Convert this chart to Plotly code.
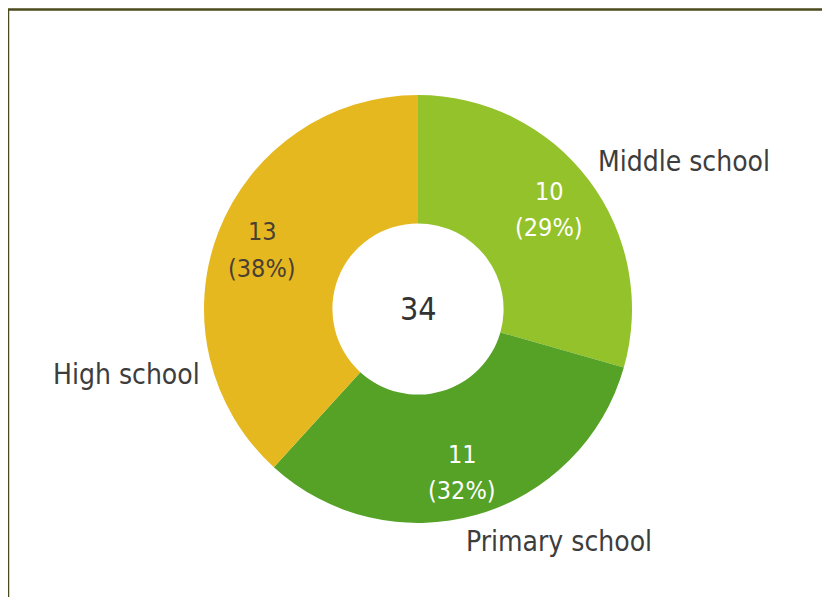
import plotly.graph_objects as go

categories = ["Middle school", "Primary school", "High school"]
values = [10, 11, 13]
colors = ["#94c22b", "#55a227", "#e6b820"]
inside_text_colors = ["#ffffff", "#ffffff", "#4a3f33"]
total = sum(values)

W, H = 830, 597
OFF = 8  # page body margin offset
cx, cy, R = 418 - OFF, 309 - OFF, 214
FONT = "DejaVu Sans Condensed, DejaVu Sans"

fig = go.Figure()
fig.add_trace(go.Pie(
    labels=categories,
    values=values,
    textinfo="none",
    hole=0.40,
    sort=False,
    direction="clockwise",
    rotation=0,
    marker=dict(colors=colors, line=dict(color="#ffffff", width=0)),
    domain=dict(x=[(cx - R) / W, (cx + R) / W], y=[(H - cy - R) / H, (H - cy + R) / H]),
    showlegend=False,
))

label_pos = {
    "Middle school": (684, 162),
    "Primary school": (559, 541),
    "High school": (126, 374),
}
value_pos = {
    "Middle school": (549, 210),
    "Primary school": (462, 472),
    "High school": (262, 250),
}
LINE_GAP = 18
annotations = []
for c, v, tc in zip(categories, values, inside_text_colors):
    x, y = label_pos[c]
    annotations.append(dict(
        x=(x - OFF) / W, y=1 - (y - OFF) / H, xref="paper", yref="paper",
        text=c, showarrow=False, xanchor="center", yanchor="middle",
        font=dict(family=FONT, size=28, color="#3d3d3d"),
    ))
    x, y = value_pos[c]
    for txt, dy in ((str(v), -LINE_GAP), (f"({round(v / total * 100)}%)", LINE_GAP)):
        annotations.append(dict(
            x=(x - OFF) / W, y=1 - (y + dy - OFF) / H, xref="paper", yref="paper",
            text=txt, showarrow=False, xanchor="center", yanchor="middle",
            font=dict(family=FONT, size=25, color=tc),
        ))
annotations.append(dict(
    x=cx / W, y=1 - cy / H, xref="paper", yref="paper",
    text=str(total), showarrow=False, xanchor="center", yanchor="middle",
    font=dict(family=FONT, size=32, color="#333333"),
))

fig.update_layout(
    width=W, height=H,
    margin=dict(l=0, r=0, t=0, b=0),
    paper_bgcolor="#ffffff",
    plot_bgcolor="#ffffff",
    annotations=annotations,
    shapes=[dict(
        type="rect", xref="paper", yref="paper",
        x0=0, x1=1.05, y0=-0.05, y1=1 - 1.5 / H,
        line=dict(color="#4b4b1e", width=2.5),
    )],
)

fig.write_html("out.html")
